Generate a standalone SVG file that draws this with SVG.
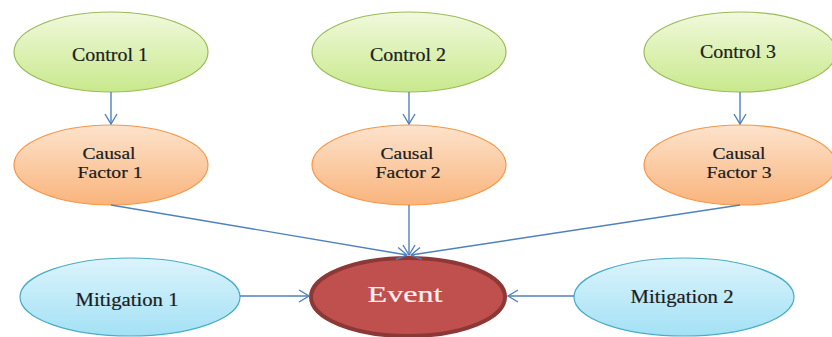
<svg xmlns="http://www.w3.org/2000/svg" width="832" height="337" viewBox="0 0 832 337">
  <defs>
    <linearGradient id="gGreen" x1="0" y1="0" x2="0" y2="1">
      <stop offset="0" stop-color="#f1f9dc"/>
      <stop offset="1" stop-color="#c9e98c"/>
    </linearGradient>
    <linearGradient id="gOrange" x1="0" y1="0" x2="0" y2="1">
      <stop offset="0" stop-color="#fde3cc"/>
      <stop offset="1" stop-color="#f9b47c"/>
    </linearGradient>
    <linearGradient id="gBlue" x1="0" y1="0" x2="0" y2="1">
      <stop offset="0" stop-color="#dcf4fc"/>
      <stop offset="1" stop-color="#a3e1f5"/>
    </linearGradient>
    <marker id="arrow" viewBox="0 0 12 14" refX="11" refY="7" markerWidth="12" markerHeight="14" markerUnits="userSpaceOnUse" orient="auto">
      <path d="M1,1 L11,7 L1,13" fill="none" stroke="#4f81bd" stroke-width="1.4"/>
    </marker>
  </defs>
  <style>
    .control { fill: url(#gGreen); stroke: #9bbb59; stroke-width: 1.2; }
    .cause { fill: url(#gOrange); stroke: #f79646; stroke-width: 1.2; }
    .mitig { fill: url(#gBlue); stroke: #4bacc6; stroke-width: 1.2; }
    .event { fill: #c0504d; stroke: #8c3836; stroke-width: 4; }
    text { font-family: "Liberation Serif", "DejaVu Serif", serif; text-anchor: middle; }
    .lbl { fill: #1c1c1c; stroke: #1c1c1c; stroke-width: 0.2; }
    .elbl { fill: #fbeef0; stroke: #fbeef0; stroke-width: 0.2; }
    .conn line { stroke: #4f81bd; stroke-width: 1.4; fill: none; marker-end: url(#arrow); }
  </style>
  <rect width="832" height="337" fill="#ffffff"/>

  <g id="control-1">
    <ellipse class="control" cx="111" cy="52" rx="97" ry="40"/>
    <text class="lbl" x="110" y="61" font-size="18" textLength="76" lengthAdjust="spacingAndGlyphs">Control 1</text>
  </g>
  <g id="control-2">
    <ellipse class="control" cx="409" cy="52" rx="97" ry="40"/>
    <text class="lbl" x="408" y="61" font-size="18" textLength="76" lengthAdjust="spacingAndGlyphs">Control 2</text>
  </g>
  <g id="control-3">
    <ellipse class="control" cx="740" cy="52" rx="96" ry="40"/>
    <text class="lbl" x="738" y="58" font-size="18" textLength="76" lengthAdjust="spacingAndGlyphs">Control 3</text>
  </g>

  <g id="causal-factor-1">
    <ellipse class="cause" cx="111" cy="165" rx="97" ry="40"/>
    <text class="lbl" x="109" y="159" font-size="16" textLength="53" lengthAdjust="spacingAndGlyphs">Causal</text>
    <text class="lbl" x="110" y="178" font-size="16" textLength="65" lengthAdjust="spacingAndGlyphs">Factor 1</text>
  </g>
  <g id="causal-factor-2">
    <ellipse class="cause" cx="409" cy="165" rx="97" ry="40"/>
    <text class="lbl" x="407" y="159" font-size="16" textLength="53" lengthAdjust="spacingAndGlyphs">Causal</text>
    <text class="lbl" x="408" y="178" font-size="16" textLength="65" lengthAdjust="spacingAndGlyphs">Factor 2</text>
  </g>
  <g id="causal-factor-3">
    <ellipse class="cause" cx="740" cy="165" rx="96" ry="40"/>
    <text class="lbl" x="739" y="159" font-size="16" textLength="53" lengthAdjust="spacingAndGlyphs">Causal</text>
    <text class="lbl" x="739" y="178" font-size="16" textLength="65" lengthAdjust="spacingAndGlyphs">Factor 3</text>
  </g>

  <g id="event">
    <ellipse class="event" cx="408" cy="297" rx="97" ry="39"/>
    <text class="elbl" x="405" y="302" font-size="23" textLength="75" lengthAdjust="spacingAndGlyphs">Event</text>
  </g>

  <g id="mitigation-1">
    <ellipse class="mitig" cx="130" cy="297" rx="110" ry="39"/>
    <text class="lbl" x="127" y="306" font-size="18" textLength="103" lengthAdjust="spacingAndGlyphs">Mitigation 1</text>
  </g>
  <g id="mitigation-2">
    <ellipse class="mitig" cx="684" cy="297" rx="110" ry="39"/>
    <text class="lbl" x="682" y="303" font-size="18" textLength="103" lengthAdjust="spacingAndGlyphs">Mitigation 2</text>
  </g>

  <g id="connectors" class="conn">
    <line x1="111" y1="92" x2="111" y2="124"/>
    <line x1="409" y1="92" x2="409" y2="124"/>
    <line x1="740" y1="92" x2="740" y2="124"/>
    <line x1="111" y1="205" x2="407" y2="255"/>
    <line x1="409" y1="205" x2="409" y2="255"/>
    <line x1="740" y1="205" x2="411" y2="255"/>
    <line x1="240" y1="296" x2="309" y2="296"/>
    <line x1="574" y1="296" x2="508" y2="296"/>
  </g>
</svg>
